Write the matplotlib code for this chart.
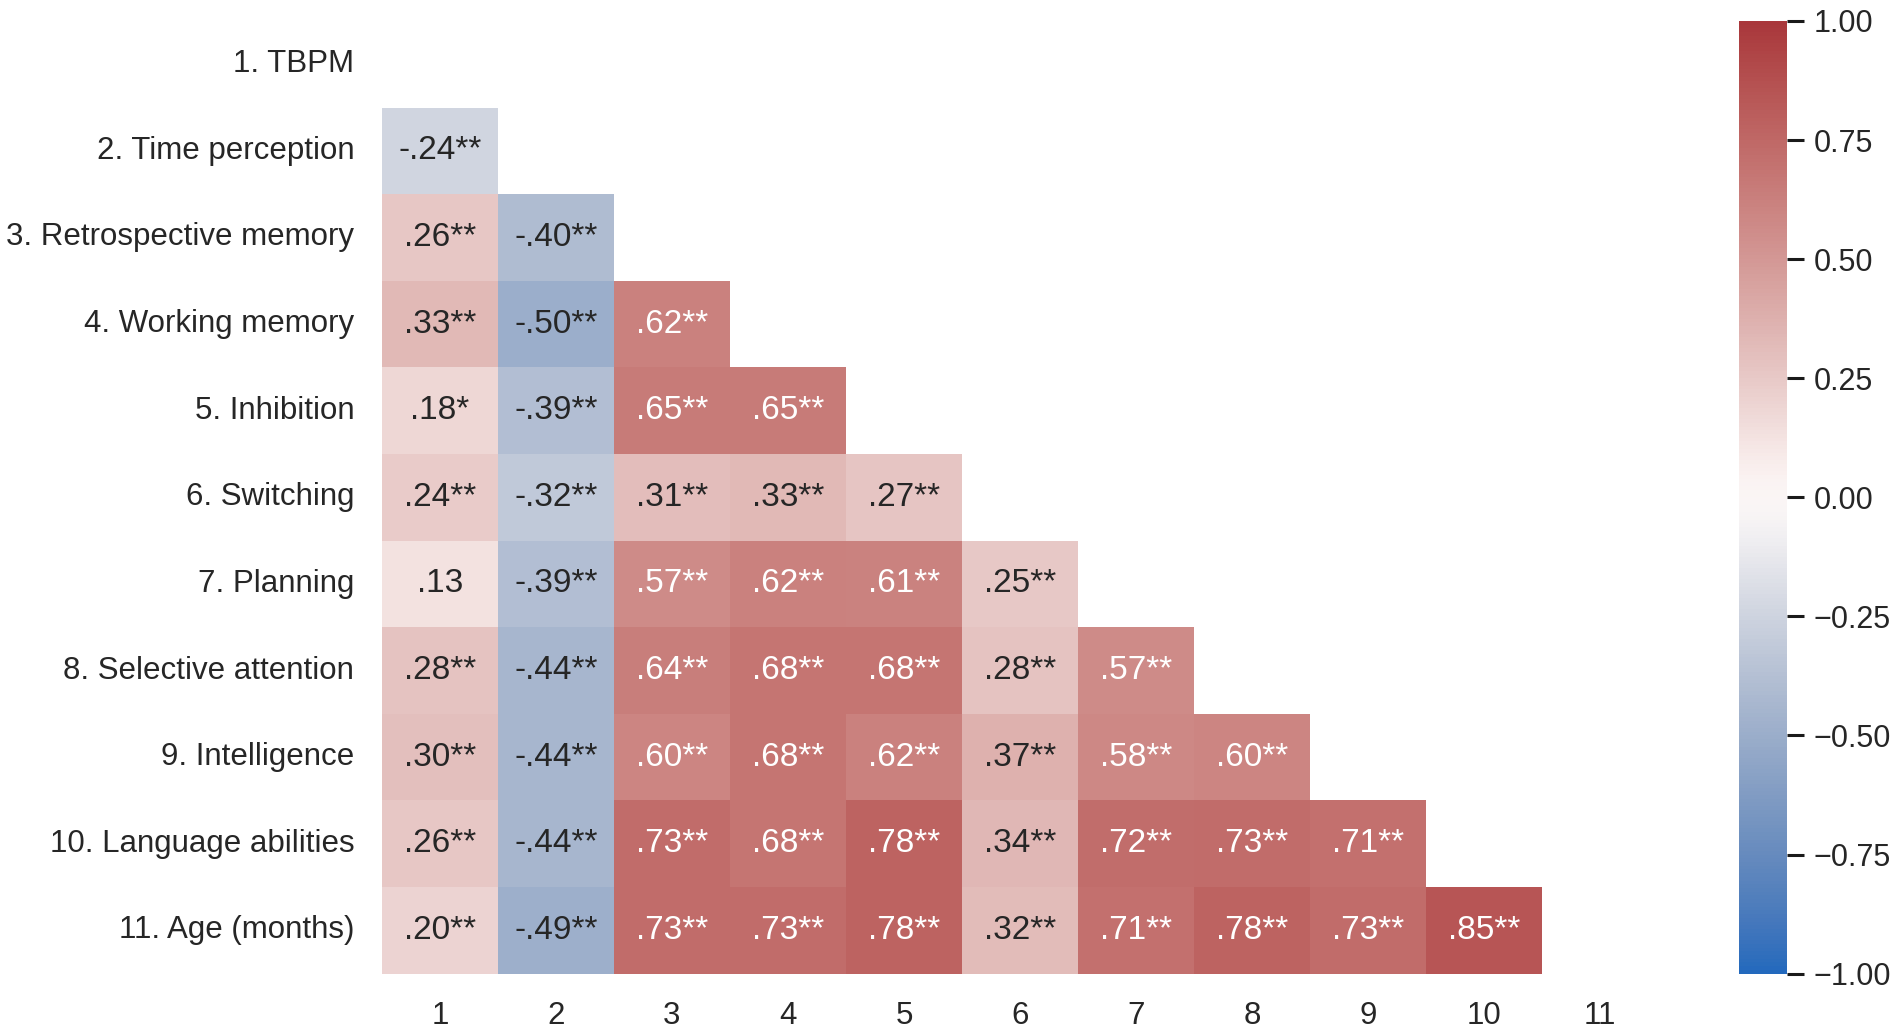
import numpy as np
import seaborn as sns
import matplotlib.pyplot as plt

labels = ['1. TBPM', '2. Time perception', '3. Retrospective memory',
          '4. Working memory', '5. Inhibition', '6. Switching', '7. Planning',
          '8. Selective attention', '9. Intelligence', '10. Language abilities',
          '11. Age (months)']
col_labels = [str(i) for i in range(1, 12)]

# lower triangle, row by row (r values and significance stars)
r_rows = [
    [],
    [-.24],
    [.26, -.40],
    [.33, -.50, .62],
    [.18, -.39, .65, .65],
    [.24, -.32, .31, .33, .27],
    [.13, -.39, .57, .62, .61, .25],
    [.28, -.44, .64, .68, .68, .28, .57],
    [.30, -.44, .60, .68, .62, .37, .58, .60],
    [.26, -.44, .73, .68, .78, .34, .72, .73, .71],
    [.20, -.49, .73, .73, .78, .32, .71, .78, .73, .85],
]
star_rows = [
    [],
    ['**'],
    ['**', '**'],
    ['**', '**', '**'],
    ['*', '**', '**', '**'],
    ['**', '**', '**', '**', '**'],
    ['', '**', '**', '**', '**', '**'],
    ['**'] * 7,
    ['**'] * 8,
    ['**'] * 9,
    ['**'] * 10,
]

n = len(labels)
corr = np.zeros((n, n))
annot = np.full((n, n), '', dtype=object)
for i, row in enumerate(r_rows):
    for j, v in enumerate(row):
        corr[i, j] = v
        txt = f'{v:.2f}'.replace('0.', '.')
        annot[i, j] = txt + star_rows[i][j]
mask = np.triu(np.ones((n, n), dtype=bool))

sns.set_theme(style='white')
plt.rcParams['font.family'] = ['Liberation Sans', 'DejaVu Sans']

fig = plt.figure(figsize=(19.02, 10.34), dpi=100)
ax = fig.add_axes([0.2008, 0.0584, 0.6709, 0.9213])
cax = fig.add_axes([0.9143, 0.0584, 0.0252, 0.9213])

sns.heatmap(corr, mask=mask, cmap='vlag', vmin=-1, vmax=1, annot=annot, fmt='',
            annot_kws={'fontsize': 24}, ax=ax, cbar_ax=cax,
            xticklabels=col_labels, yticklabels=labels)

ax.tick_params(axis='both', length=0, pad=20, labelsize=22.5, labelcolor='#262626')
plt.setp(ax.get_yticklabels(), rotation=0)
plt.setp(ax.get_xticklabels(), rotation=0)

cax.set_yticks([-1, -0.75, -0.5, -0.25, 0, 0.25, 0.5, 0.75, 1])
cax.set_yticklabels(['\u22121.00', '\u22120.75', '\u22120.50', '\u22120.25', '0.00',
                     '0.25', '0.50', '0.75', '1.00'])
cax.tick_params(axis='y', right=True, length=12, width=2.2, color='#1a1a1a',
                pad=7, labelsize=22, labelcolor='#262626')

fig.savefig('out.png', dpi=100)
